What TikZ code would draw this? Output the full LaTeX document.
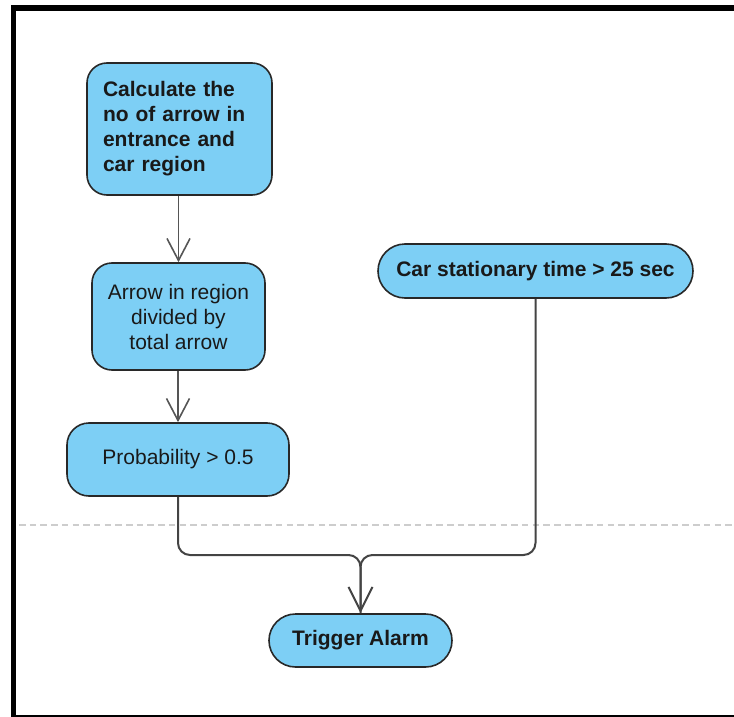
\documentclass[tikz,border=0pt]{standalone}
\usepackage{fontspec}
\setmainfont{Liberation Sans}
\usetikzlibrary{arrows.meta}
\definecolor{boxfill}{RGB}{125,207,245}
\definecolor{boxline}{RGB}{40,40,40}
\definecolor{wire}{RGB}{85,85,85}
\definecolor{sepline}{RGB}{205,205,205}
\begin{document}
\begin{tikzpicture}[x=1pt,y=-1pt,
  every node/.style={font=\fontsize{21}{25}\selectfont, text=black!90},
  actbox/.style={draw=boxline, fill=boxfill, line width=1.6pt, rounded corners=20pt, inner sep=0pt},
  pill/.style={draw=boxline, fill=boxfill, line width=1.6pt, inner sep=0pt},
  flow/.style={draw=wire, line width=1.6pt, -{Straight Barb[length=22pt,width=23pt,line width=1.6pt]}},
  merge/.style={draw=wire!80!black, line width=2pt, rounded corners=12pt}
]
\useasboundingbox (0,0) rectangle (734,717);

% page frame
\draw[line width=5.5pt] (734,8) -- (13.5,8) -- (13.5,717);
\draw[line width=2pt] (13.5,716) -- (734,716);

% swimlane separator
\draw[sepline, line width=2.5pt, dash pattern=on 6.5pt off 4.2pt] (19,525) -- (734,525);

% activity nodes
\node[actbox, minimum width=185pt, minimum height=132pt, align=left, text width=153pt, font=\fontsize{21}{25}\selectfont\bfseries]
  (calc) at (179.5,129) {Calculate the\\no of arrow in\\entrance and\\car region};
\node[actbox, minimum width=173pt, minimum height=107pt, align=center]
  (ratio) at (178.5,316.5) {Arrow in region\\divided by\\total arrow};
\node[actbox, rounded corners=22pt, minimum width=222pt, minimum height=73pt]
  (prob) at (178,459.5) {Probability > 0.5};
\node[pill, rounded corners=27pt, minimum width=315pt, minimum height=54pt, font=\fontsize{21}{25}\selectfont\bfseries]
  (stat) at (535.5,271) {Car stationary time > 25 sec};
\node[pill, rounded corners=26.5pt, minimum width=183pt, minimum height=53pt, font=\fontsize{21}{25}\selectfont\bfseries]
  (alarm) at (360.5,640.5) {Trigger Alarm};

% junction of the two conditions
\coordinate (join) at (alarm.north |- 0,555);

% connectors
\draw[flow] (calc.south -| ratio.north) -- (ratio.north);
\draw[flow] (ratio.south -| prob.north) -- (prob.north);
\draw[merge] (stat.south) -- (stat.south |- join) -- (join) -- (alarm.north);
\draw[merge, -{Straight Barb[length=24pt,width=24pt,line width=2pt]}] (prob.south) -- (prob.south |- join) -- (join) -- (alarm.north);
\end{tikzpicture}
\end{document}
